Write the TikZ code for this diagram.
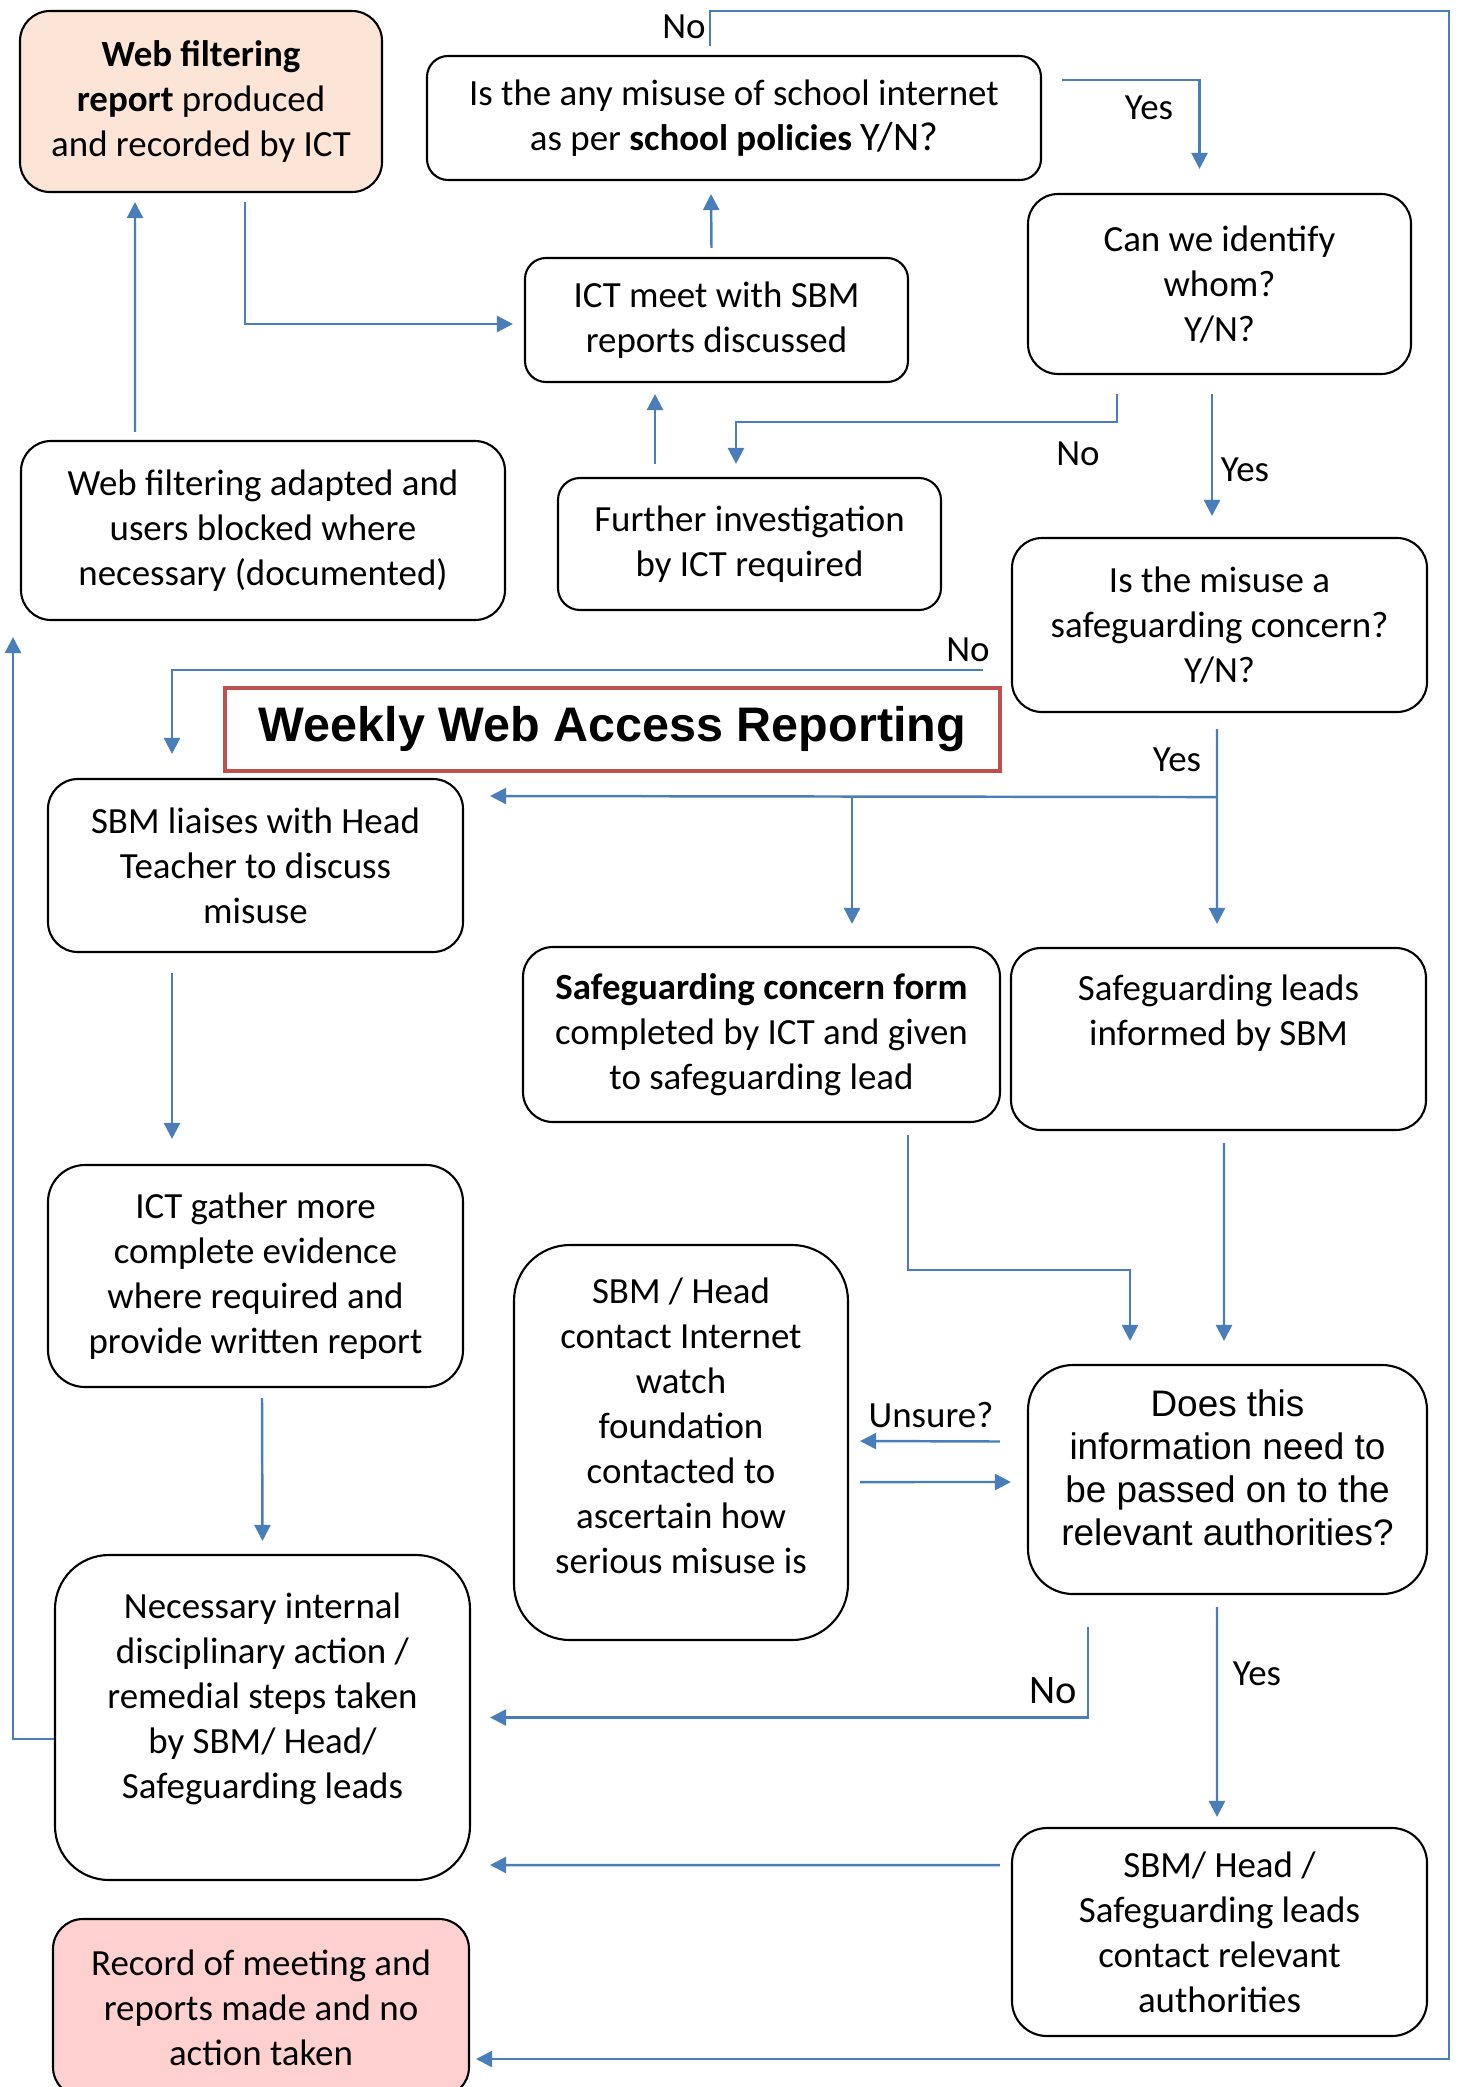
\documentclass[tikz,border=0pt]{standalone}
\usepackage{fontspec}
\setmainfont{Carlito}
\newfontfamily\arialfont{Liberation Sans}
\usetikzlibrary{arrows.meta,positioning}
\definecolor{linkblue}{RGB}{74,126,187}
\definecolor{peach}{RGB}{252,228,214}
\definecolor{rosefill}{RGB}{255,208,208}
\definecolor{titlered}{RGB}{192,80,77}

\begin{document}
\begin{tikzpicture}[
  font=\fontsize{10.5}{12.8}\selectfont,
  box/.style={rectangle, rounded corners=#1, draw=black, line width=0.6pt, align=center, inner sep=2pt},
  box/.default=3mm,
  arr/.style={-{Triangle[length=1.6mm,width=1.6mm]}, line width=0.7pt, linkblue},
  lbl/.style={inner sep=0pt}
]
\clip (0,0) rectangle (14.58,-20.87);
\fill[white] (0,0) rectangle (14.58,-20.87);

% boxes
\node[box, fill=peach, minimum width=3.62cm, minimum height=1.81cm] (wf) at (2.01,-1.015) {\textbf{Web filtering}\\\textbf{report} produced\\and recorded by ICT};
\node[box=2.1mm, minimum width=6.14cm, minimum height=1.24cm] (q1) at (7.34,-1.18) {Is the any misuse of school internet\\as per \textbf{school policies} {\fontsize{11.5}{12.8}\selectfont Y/N?}};
\node[box=2.1mm, minimum width=3.83cm, minimum height=1.24cm] (meet) at (7.165,-3.20) {ICT meet with SBM\\reports discussed};
\node[box, minimum width=3.83cm, minimum height=1.80cm] (id) at (12.195,-2.84) {Can we identify\\whom?\\Y/N?};
\node[box, minimum width=4.84cm, minimum height=1.79cm] (adapt) at (2.63,-5.305) {Web filtering adapted and\\users blocked where\\necessary (documented)};
\node[box=2.2mm, minimum width=3.83cm, minimum height=1.32cm] (further) at (7.495,-5.44) {Further investigation\\by ICT required};
\node[box, minimum width=4.15cm, minimum height=1.74cm] (safe) at (12.195,-6.25) {Is the misuse a\\safeguarding concern?\\Y/N?};
\node[draw=titlered, line width=1.4pt, minimum width=7.75cm, minimum height=0.83cm, font=\arialfont\bfseries\fontsize{13.8}{16}\selectfont] (title) at (6.125,-7.295) {Weekly Web Access Reporting};
\node[box, minimum width=4.15cm, minimum height=1.73cm] (liaise) at (2.555,-8.655) {SBM liaises with Head\\Teacher to discuss\\misuse};
\node[box, minimum width=4.77cm, minimum height=1.75cm] (form) at (7.615,-10.345) {\textbf{Safeguarding concern form}\\completed by ICT and given\\to safeguarding lead};
\node[box, minimum width=4.15cm, minimum height=1.82cm] (leads) at (12.185,-10.39) {Safeguarding leads\\informed by SBM\\\strut};
\node[box=3.7mm, minimum width=4.15cm, minimum height=2.22cm] (gather) at (2.555,-12.76) {ICT gather more\\complete evidence\\where required and\\provide written report};
\node[box=5.6mm, minimum width=3.34cm, minimum height=3.95cm] (iwf) at (6.81,-14.425) {SBM / Head\\contact Internet\\watch\\foundation\\contacted to\\ascertain how\\serious misuse is\\[-7pt]\strut};
\node[box=4.5mm, minimum width=3.99cm, minimum height=2.29cm, font=\arialfont\fontsize{10.5}{12.2}\selectfont] (pass) at (12.275,-14.795) {Does this\\information need to\\be passed on to the\\relevant authorities?\\[-9pt]\strut};
\node[box=5.4mm, minimum width=4.15cm, minimum height=3.25cm] (disc) at (2.625,-17.175) {Necessary internal\\disciplinary action /\\remedial steps taken\\by SBM/ Head/\\Safeguarding leads\\[-4pt]\strut};
\node[box=3.5mm, minimum width=4.15cm, minimum height=2.08cm] (contact) at (12.195,-19.32) {SBM/ Head /\\Safeguarding leads\\contact relevant\\authorities};
\node[box, fill=rosefill, minimum width=4.16cm, minimum height=1.78cm] (record) at (2.61,-20.08) {Record of meeting and\\reports made and no\\action taken};

% labels
\node[lbl] (noq) at (6.84,-0.27) {No};
\node[lbl] (yesq) at (11.49,-1.08) {Yes};
\node[lbl] (noid) at (10.78,-4.54) {No};
\node[lbl] (yesid) at (12.45,-4.70) {Yes};
\node[lbl] (nosafe) at (9.68,-6.50) {No};
\node[lbl] (yessafe) at (11.77,-7.60) {Yes};
\node[lbl] (unsure) at (9.31,-14.15) {Unsure?};
\node[lbl, font=\fontsize{11.5}{13}\selectfont] (nopass) at (10.53,-16.91) {No};
\node[lbl] (yespass) at (12.57,-16.74) {Yes};

% connectors
\coordinate (topright) at (14.49,-0.11);
\draw[arr] ([xshift=-0.24cm,yshift=0.09cm]q1.north) |- (topright) |- ([xshift=0.06cm,yshift=-0.51cm]record.east);
\draw[arr] ([xshift=0.2cm,yshift=0.38cm]q1.east) -| ([xshift=-0.2cm,yshift=0.24cm]id.north);
\draw[arr] ([xshift=0.44cm,yshift=-0.09cm]wf.south) |- ([xshift=-0.11cm,yshift=-0.04cm]meet.west);
\draw[arr] ([xshift=-0.05cm,yshift=0.09cm]meet.north) -- ([xshift=-0.23cm,yshift=-0.13cm]q1.south);
\draw[arr] ([xshift=-1.28cm,yshift=0.08cm]adapt.north) -- ([xshift=-0.66cm,yshift=-0.09cm]wf.south);
\draw[arr] ([xshift=-0.945cm,yshift=0.13cm]further.north) -- ([xshift=-0.615cm,yshift=-0.11cm]meet.south);
\draw[arr] ([xshift=-1.025cm,yshift=-0.19cm]id.south) -- ++(0,-0.28) -| ([xshift=-0.135cm,yshift=0.13cm]further.north);
\draw[arr] ([xshift=-0.075cm,yshift=-0.19cm]id.south) -- ([xshift=-0.075cm,yshift=0.21cm]safe.north);
\draw[arr] ([xshift=-0.28cm,yshift=-0.45cm]safe.west) -| ([xshift=-0.835cm,yshift=0.24cm]liaise.north);
\draw[arr] ([xshift=-0.025cm,yshift=-0.16cm]safe.south) -- ([xshift=-0.015cm,yshift=0.23cm]leads.north);
\coordinate (split) at ([xshift=-0.025cm,yshift=-0.84cm]safe.south);
\coordinate (formtop) at ([xshift=0.905cm,yshift=0.22cm]form.north);
\draw[arr] (split) -- ([xshift=0.26cm,yshift=0.695cm]liaise.east);
\draw[arr] (split -| formtop) -- (formtop);
\draw[arr] ([xshift=-0.835cm,yshift=-0.2cm]liaise.south) -- ([xshift=-0.835cm,yshift=0.25cm]gather.north);
\draw[arr] ([xshift=1.465cm,yshift=-0.12cm]form.south) -- ++(0,-1.35) -| ([xshift=-0.975cm,yshift=0.23cm]pass.north);
\draw[arr] ([xshift=0.055cm,yshift=-0.12cm]leads.south) -- ([xshift=-0.035cm,yshift=0.23cm]pass.north);
\draw[arr] ([xshift=0.065cm,yshift=-0.1cm]gather.south) -- ([yshift=0.13cm]disc.north);
\draw[arr] ([xshift=-0.27cm,yshift=0.38cm]pass.west) -- ([xshift=0.11cm,yshift=0.015cm]iwf.east);
\draw[arr] ([xshift=0.11cm,yshift=-0.395cm]iwf.east) -- ([xshift=-0.16cm,yshift=-0.025cm]pass.west);
\draw[arr] ([xshift=-1.395cm,yshift=-0.32cm]pass.south) |- ([xshift=0.19cm]disc.east);
\draw[arr] ([xshift=-0.105cm,yshift=-0.12cm]pass.south) -- ([xshift=-0.025cm,yshift=0.1cm]contact.north);
\draw[arr] ([xshift=-0.11cm,yshift=0.67cm]contact.west) -- ([xshift=0.19cm,yshift=-1.475cm]disc.east);
\draw[arr] ([yshift=-0.215cm]disc.west) -| ([xshift=-2.5cm,yshift=-0.16cm]adapt.south);
\end{tikzpicture}
\end{document}
